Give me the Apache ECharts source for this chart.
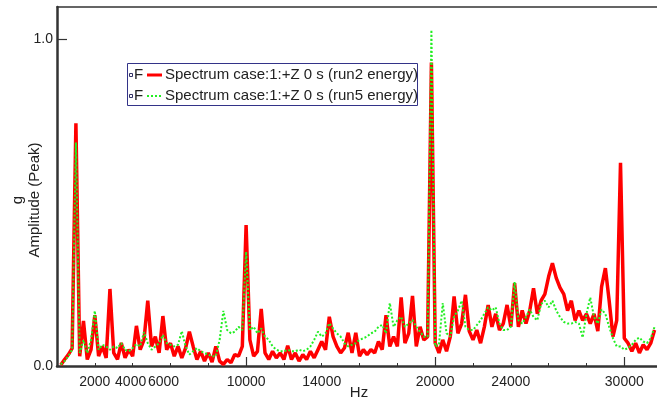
<!DOCTYPE html>
<html>
<head>
<meta charset="utf-8">
<script src="https://cdn.jsdelivr.net/npm/echarts@6/dist/echarts.min.js"></script>
<style>
html,body{margin:0;padding:0;background:#fff;}
#chart{width:657px;height:404px;}
</style>
</head>
<body>
<div id="chart"></div>
<script>
// Frequency bins (Hz)
const freqHz = [
  200,400,600,800,1000,1200,1400,1600,1800,2000,
  2200,2400,2600,2800,3000,3200,3400,3600,3800,4000,
  4200,4400,4600,4800,5000,5200,5400,5600,5800,6000,
  6200,6400,6600,6800,7000,7200,7400,7600,7800,8000,
  8200,8400,8600,8800,9000,9200,9400,9600,9800,10000,
  10200,10400,10600,10800,11000,11200,11400,11600,11800,12000,
  12200,12400,12600,12800,13000,13200,13400,13600,13800,14000,
  14200,14400,14600,14800,15000,15200,15400,15600,15800,16000,
  16200,16400,16600,16800,17000,17200,17400,17600,17800,18000,
  18200,18400,18600,18800,19000,19200,19400,19600,19800,20000,
  20200,20400,20600,20800,21000,21200,21400,21600,21800,22000,
  22200,22400,22600,22800,23000,23200,23400,23600,23800,24000,
  24200,24400,24600,24800,25000,25200,25400,25600,25800,26000,
  26200,26400,26600,26800,27000,27200,27400,27600,27800,28000,
  28200,28400,28600,28800,29000,29200,29400,29600,29800,30000,
  30200,30400,30600,30800,31000,31200,31400,31600
];
// run2 energy (red)
const ampRun2 = [
  0.003,0.02,0.035,0.054,0.744,0.03,0.138,0.02,0.05,0.156,
  0.03,0.06,0.025,0.236,0.04,0.02,0.071,0.025,0.05,0.03,
  0.123,0.05,0.08,0.20,0.06,0.09,0.04,0.153,0.05,0.07,
  0.03,0.06,0.025,0.055,0.105,0.06,0.02,0.045,0.015,0.04,
  0.012,0.06,0.015,0.005,0.02,0.01,0.035,0.03,0.06,0.432,
  0.08,0.03,0.045,0.175,0.04,0.02,0.045,0.025,0.04,0.02,
  0.062,0.02,0.04,0.015,0.035,0.02,0.045,0.025,0.05,0.075,
  0.05,0.151,0.09,0.06,0.04,0.055,0.102,0.04,0.102,0.03,
  0.05,0.035,0.05,0.04,0.075,0.05,0.156,0.06,0.09,0.06,
  0.21,0.07,0.10,0.215,0.06,0.12,0.08,0.09,0.93,0.07,
  0.04,0.08,0.045,0.09,0.213,0.1,0.13,0.218,0.107,0.08,
  0.11,0.07,0.12,0.187,0.12,0.16,0.11,0.13,0.187,0.12,
  0.254,0.12,0.17,0.13,0.17,0.238,0.16,0.2,0.22,0.274,
  0.315,0.27,0.24,0.22,0.17,0.2,0.14,0.17,0.14,0.16,
  0.13,0.16,0.107,0.243,0.30,0.2,0.09,0.14,0.623,0.085,
  0.07,0.045,0.07,0.04,0.065,0.05,0.07,0.11
];
// run5 energy (green)
const ampRun5 = [
  0.005,0.015,0.03,0.05,0.685,0.04,0.08,0.04,0.08,0.169,
  0.05,0.065,0.06,0.05,0.06,0.055,0.07,0.05,0.045,0.055,
  0.067,0.06,0.104,0.07,0.05,0.06,0.07,0.095,0.07,0.065,
  0.06,0.065,0.107,0.06,0.035,0.045,0.055,0.045,0.04,0.035,
  0.03,0.03,0.08,0.169,0.11,0.1,0.105,0.12,0.11,0.35,
  0.11,0.12,0.1,0.115,0.09,0.08,0.06,0.05,0.045,0.045,
  0.05,0.045,0.045,0.05,0.045,0.05,0.06,0.08,0.105,0.09,
  0.1,0.131,0.115,0.1,0.09,0.07,0.06,0.065,0.07,0.08,
  0.085,0.09,0.1,0.105,0.12,0.126,0.1,0.193,0.12,0.14,
  0.151,0.12,0.13,0.141,0.12,0.105,0.09,0.09,1.03,0.06,
  0.065,0.193,0.1,0.09,0.153,0.17,0.2,0.12,0.11,0.11,
  0.125,0.14,0.16,0.18,0.17,0.18,0.13,0.11,0.11,0.12,
  0.258,0.14,0.13,0.15,0.173,0.15,0.14,0.19,0.2,0.18,
  0.2,0.17,0.15,0.135,0.13,0.13,0.135,0.13,0.087,0.16,
  0.21,0.15,0.13,0.173,0.16,0.12,0.085,0.06,0.06,0.05,
  0.055,0.065,0.08,0.087,0.075,0.07,0.085,0.12
];
const xLabelValues = [2000,4000,6000,10000,14000,20000,24000,30000];
const xMajorTicks = [10000,20000,30000];
const yTickValues = [0,1];
const seriesNames = ['Spectrum case:1:+Z 0 s (run2 energy)','Spectrum case:1:+Z 0 s (run5 energy)'];
const yTitle = 'g\nAmplitude (Peak)';
const xTitle = 'Hz';

const X_MAX = 31730;
const font = 'Liberation Sans, Arial, sans-serif';
const axisColor = '#333333';

const chart = echarts.init(document.getElementById('chart'), null, {renderer:'canvas'});
const dataRun2 = freqHz.map((f,i)=>[f, ampRun2[i]]);
const dataRun5 = freqHz.map((f,i)=>[f, ampRun5[i]]);

const labelStyle = {fontFamily:font, fontSize:14, color:'#222'};

chart.setOption({
  animation:false,
  backgroundColor:'#ffffff',
  grid:{left:57, right:0, top:7, bottom:38, containLabel:false, outerBoundsMode:'none'},
  xAxis:[
    {type:'value', min:0, max:X_MAX, interval:2000, position:'bottom',
     axisLine:{show:true, lineStyle:{color:axisColor, width:2.5}},
     axisTick:{show:true, inside:true, length:3, lineStyle:{color:axisColor, width:1}},
     axisLabel:{customValues:xLabelValues, fontFamily:font, fontSize:14, color:'#222', margin:9,
       hideOverlap:false,
       formatter:v=> v===6000 ? '{s|'+v+'}' : (v===4000 ? '{t|'+v+'}' : String(v)),
       rich:{s:Object.assign({padding:[0,14,0,0]}, labelStyle), t:Object.assign({padding:[0,4,0,0]}, labelStyle)}},
     splitLine:{show:false}},
    {type:'value', min:0, max:X_MAX, position:'bottom', gridIndex:0,
     axisLine:{show:false},
     axisTick:{show:true, inside:true, length:9, customValues:xMajorTicks, lineStyle:{color:axisColor, width:1.2}},
     axisLabel:{show:false}, splitLine:{show:false}},
    {type:'value', min:0, max:X_MAX, position:'top', gridIndex:0,
     axisLine:{show:true, lineStyle:{color:axisColor, width:1.5}},
     axisTick:{show:false}, axisLabel:{show:false}, splitLine:{show:false}}
  ],
  yAxis:{type:'value', min:0, max:1.1, interval:1,
     axisLine:{show:true, lineStyle:{color:axisColor, width:2.5}},
     axisTick:{show:true, inside:true, length:10, customValues:yTickValues, lineStyle:{color:axisColor, width:1.2}},
     axisLabel:{customValues:yTickValues, formatter:v=>v.toFixed(1), fontFamily:font, fontSize:14, color:'#222', margin:4},
     splitLine:{show:false}},
  series:[
    {name:seriesNames[0], type:'line', data:dataRun2, symbol:'none', xAxisIndex:0,
     lineStyle:{color:'#ff0000', width:3.5}, z:2},
    {name:seriesNames[1], type:'line', data:dataRun5, symbol:'none', xAxisIndex:0,
     lineStyle:{color:'#22ee22', width:2, type:[2,2]}, z:3}
  ],
  graphic:[
    {type:'text', x:26, y:200, rotation:Math.PI/2,
     style:{text:yTitle, font:'15px '+font, fill:'#222', align:'center', verticalAlign:'middle', lineHeight:17}},
    {type:'text', x:359, y:393,
     style:{text:xTitle, font:'15px '+font, fill:'#222', align:'center', verticalAlign:'middle'}},
    {type:'rect', shape:{x:127.5, y:63.5, width:290, height:42}, style:{fill:'#fff', stroke:'#333388', lineWidth:1}, z:10},
    {type:'rect', shape:{x:129.5, y:73.5, width:3, height:3}, style:{fill:'#fff', stroke:'#333366', lineWidth:1}, z:11},
    {type:'text', x:134, y:75, style:{text:'F', font:'15px '+font, fill:'#222', verticalAlign:'middle'}, z:11},
    {type:'line', shape:{x1:147, y1:75, x2:162, y2:75}, style:{stroke:'#ff0000', lineWidth:3}, z:11},
    {type:'text', x:165, y:75, style:{text:seriesNames[0], font:'15px '+font, fill:'#222', verticalAlign:'middle'}, z:11},
    {type:'rect', shape:{x:129.5, y:94.5, width:3, height:3}, style:{fill:'#fff', stroke:'#333366', lineWidth:1}, z:11},
    {type:'text', x:134, y:96, style:{text:'F', font:'15px '+font, fill:'#222', verticalAlign:'middle'}, z:11},
    {type:'line', shape:{x1:147, y1:96, x2:162, y2:96}, style:{stroke:'#22ee22', lineWidth:2, lineDash:[2,2]}, z:11},
    {type:'text', x:165, y:96, style:{text:seriesNames[1], font:'15px '+font, fill:'#222', verticalAlign:'middle'}, z:11}
  ]
});
</script>
</body>
</html>
